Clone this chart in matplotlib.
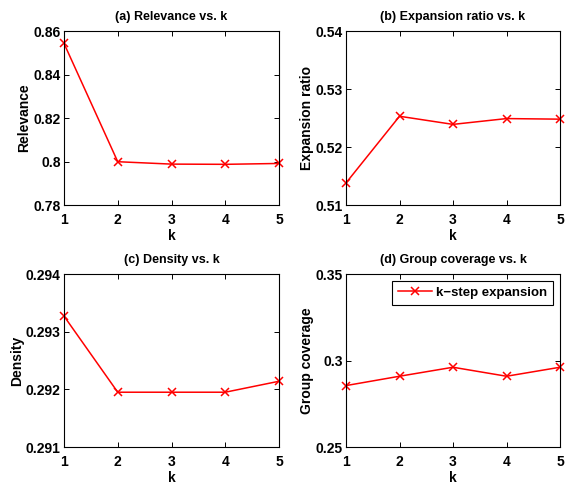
import matplotlib
matplotlib.use('Agg')
import matplotlib.pyplot as plt

plt.rcParams['font.family'] = ['Liberation Sans', 'DejaVu Sans']
plt.rcParams['font.weight'] = 'bold'

k = [1, 2, 3, 4, 5]
relevance = [0.8543, 0.7999, 0.7988, 0.7987, 0.7991]
expansion = [0.5138, 0.5253, 0.5239, 0.5249, 0.5248]
density = [0.29327, 0.29195, 0.29195, 0.29195, 0.29214]
coverage = [0.2855, 0.2909, 0.2961, 0.2909, 0.2961]

panels = [
    ('(a) Relevance vs. k', 'Relevance', relevance, (0.78, 0.86), [0.78, 0.80, 0.82, 0.84, 0.86], ['0.78', '0.8', '0.82', '0.84', '0.86']),
    ('(b) Expansion ratio vs. k', 'Expansion ratio', expansion, (0.51, 0.54), [0.51, 0.52, 0.53, 0.54], ['0.51', '0.52', '0.53', '0.54']),
    ('(c) Density vs. k', 'Density', density, (0.291, 0.294), [0.291, 0.292, 0.293, 0.294], ['0.291', '0.292', '0.293', '0.294']),
    ('(d) Group coverage vs. k', 'Group coverage', coverage, (0.25, 0.35), [0.25, 0.30, 0.35], ['0.25', '0.3', '0.35']),
]

fig = plt.figure(figsize=(5.75, 4.86), dpi=100)
W, H = 575, 486
boxes = [(64, 31, 279, 205), (346, 31, 560, 205), (64, 274, 279, 447), (346, 274, 560, 447)]

for (title, ylab, vals, ylim, yt, ytl), (x0, y0, x1, y1) in zip(panels, boxes):
    ax = fig.add_axes([x0 / W, 1 - y1 / H, (x1 - x0) / W, (y1 - y0) / H])
    ax.plot(k, vals, color='red', marker='x', markersize=6, markeredgewidth=1.1,
            linewidth=1.1, label='k\u2212step expansion', clip_on=False)
    ax.set_xlim(1, 5)
    ax.set_ylim(*ylim)
    ax.set_xticks(k)
    ax.set_yticks(yt)
    ax.set_yticklabels(ytl)
    ax.tick_params(direction='in', top=True, right=True, labelsize=10, length=3.5, width=0.7)
    ax.tick_params(axis='x', pad=5.5)
    ax.tick_params(axis='y', pad=2.5)
    for s in ax.spines.values():
        s.set_linewidth(0.8)
    ax.set_title(title, fontsize=9, fontweight='bold', pad=8)
    ax.set_xlabel('k', fontsize=10, fontweight='bold', labelpad=1.5)
    ax.set_ylabel(ylab, fontsize=10, fontweight='bold', labelpad=1.2)
    if ylab == 'Group coverage':
        leg = ax.legend(loc='upper right', fontsize=9.5, fancybox=False, framealpha=1,
                        edgecolor='black', borderaxespad=0.5, borderpad=0.45,
                        handlelength=2.6, handletextpad=0.3)
        leg.get_frame().set_linewidth(0.8)

fig.savefig('out.png', dpi=100)
